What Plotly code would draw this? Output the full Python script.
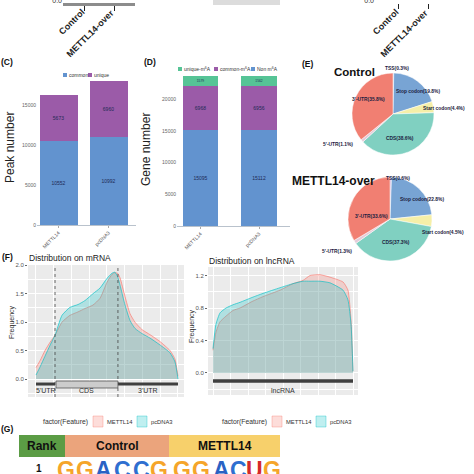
import plotly.graph_objects as go

W = H = 474
def px(x): return x / W
def py(y): return 1 - y / H

FONT = "Liberation Sans, Arial, sans-serif"

# ---------------- data ----------------
top_groups = ["Control", "METTL14-over"]
top_zero = [0, 0]

bar_groups = ["METTL14", "pcDNA3"]
peak_common = [10552, 10992]
peak_unique = [5673, 6960]
peak_ticks = [0, 5000, 10000, 15000]

gene_non = [15095, 15112]
gene_common = [6968, 6956]
gene_unique = [1579, 1562]
gene_ticks = [0, 5000, 10000, 15000, 20000]

pie_labels = ["TSS", "Stop codon", "Start codon", "CDS", "5'-UTR", "3'-UTR"]
pie_control = [0.3, 19.8, 4.4, 38.6, 1.1, 35.8]
pie_over = [0.6, 22.8, 4.5, 37.3, 1.3, 33.6]

mrna_pos = [0, 0.03, 0.063, 0.1, 0.134, 0.183, 0.239, 0.296, 0.345, 0.401, 0.451,
            0.5, 0.535, 0.555, 0.575, 0.592, 0.627, 0.662, 0.697, 0.746, 0.803,
            0.873, 0.944, 0.979, 1.0]
mrna_pcdna3 = [0.07, 0.22, 0.4, 0.6, 0.77, 1.12, 1.26, 1.31, 1.38, 1.5, 1.6,
               1.77, 1.86, 1.88, 1.80, 1.65, 1.3, 1.03, 0.89, 0.8, 0.72,
               0.6, 0.46, 0.3, 0.0]
mrna_mettl14 = [0.2, 0.33, 0.5, 0.65, 0.77, 1.0, 1.12, 1.18, 1.24, 1.3, 1.42,
                1.7, 1.84, 1.87, 1.86, 1.78, 1.45, 1.15, 1.0, 0.87, 0.78,
                0.66, 0.5, 0.35, 0.05]

lnc_pos = [0, 0.021, 0.05, 0.093, 0.143, 0.193, 0.279, 0.357, 0.479, 0.571,
           0.643, 0.693, 0.764, 0.836, 0.929, 0.964, 0.986, 1.0]
lnc_pcdna3 = [0.3, 0.6, 0.74, 0.8, 0.84, 0.87, 0.93, 0.98, 1.05, 1.1,
              1.13, 1.13, 1.13, 1.11, 1.02, 0.9, 0.6, 0.02]
lnc_mettl14 = [0.28, 0.5, 0.63, 0.7, 0.77, 0.8, 0.88, 0.94, 1.02, 1.1,
               1.14, 1.2, 1.21, 1.18, 1.12, 1.02, 0.65, 0.02]

mrna_regions = ["5'UTR", "CDS", "3'UTR"]
mrna_bounds = [0.0, 0.134, 0.577, 1.0]

motif_control = ["G", "G", "A", "C", "C", "G"]
motif_mettl14 = ["G", "G", "A", "C", "U", "G"]
motif_ranks = ["1"]

# ---------------- styles ----------------
BLUE = "#6293cf"; PURPLE = "#9b5ba8"; GREEN = "#56c496"
PIE_COLORS = ["#c9a3d3", "#78a4d4", "#f5efa8", "#80d0c1", "#e3cbd8", "#f17f72"]
PINK = "248,118,109"; TEAL = "0,191,196"
BASE_COL = {"A": "#2a62c4", "C": "#2f6fd0", "G": "#f5a52a", "U": "#d42a2a"}

fig = go.Figure()

# top (cropped) panels
for xa, ya in (("x", "y"), ("x2", "y2")):
    fig.add_trace(go.Scatter(x=top_groups, y=top_zero, mode="markers",
                             marker=dict(opacity=0), xaxis=xa, yaxis=ya,
                             hoverinfo="skip"))

lab = dict(size=5, color="#1e2a55", family=FONT)
# panel C
for vals, col in ((peak_common, BLUE), (peak_unique, PURPLE)):
    fig.add_trace(go.Bar(x=bar_groups, y=vals, marker=dict(color=col, line=dict(width=0)),
                         width=0.76, text=[str(v) for v in vals], textposition="inside",
                         insidetextanchor="middle", textangle=0, textfont=lab,
                         xaxis="x3", yaxis="y3", hoverinfo="skip"))
# panel D
for vals, col in ((gene_non, BLUE), (gene_common, PURPLE), (gene_unique, GREEN)):
    fig.add_trace(go.Bar(x=bar_groups, y=vals, marker=dict(color=col, line=dict(width=0)),
                         width=0.6, text=[str(v) for v in vals], textposition="inside",
                         insidetextanchor="middle", textangle=0, textfont=lab,
                         xaxis="x4", yaxis="y4", hoverinfo="skip"))

# panel E pies
for vals, dx, dy in ((pie_control, (352, 434), (155, 73)), (pie_over, (348, 432), (261, 177))):
    fig.add_trace(go.Pie(values=vals, labels=pie_labels, sort=False, direction="clockwise",
                         rotation=0, textinfo="none", hoverinfo="skip",
                         marker=dict(colors=PIE_COLORS, line=dict(color="white", width=0.5)),
                         domain=dict(x=[px(dx[0]), px(dx[1])], y=[py(dy[0]), py(dy[1])])))

# panel F density curves
for pos, m, p, xa, ya in ((mrna_pos, mrna_mettl14, mrna_pcdna3, "x5", "y5"),
                          (lnc_pos, lnc_mettl14, lnc_pcdna3, "x6", "y6")):
    fig.add_trace(go.Scatter(x=pos, y=m, mode="lines", fill="tozeroy",
                             fillcolor=f"rgba({PINK},0.25)",
                             line=dict(color=f"rgba({PINK},0.8)", width=0.8, shape="spline", smoothing=0.5),
                             xaxis=xa, yaxis=ya, hoverinfo="skip"))
    fig.add_trace(go.Scatter(x=pos, y=p, mode="lines", fill="tozeroy",
                             fillcolor=f"rgba({TEAL},0.25)",
                             line=dict(color=f"rgba({TEAL},0.8)", width=0.8, shape="spline", smoothing=0.5),
                             xaxis=xa, yaxis=ya, hoverinfo="skip"))

# ---------------- annotations & shapes ----------------
anns = []
shapes = []

def T(text, x, y, size, color="#222", bold=False, xanchor="center", yanchor="middle", angle=0, xref="paper", yref="paper"):
    anns.append(dict(text=text, x=px(x) if xref == "paper" else x, y=py(y) if yref == "paper" else y,
                     xref=xref, yref=yref, showarrow=False,
                     xanchor=xanchor, yanchor=yanchor, textangle=angle, borderpad=0,
                     font=dict(size=size, color=color, family=FONT,
                               weight="bold" if bold else "normal")))

def R(x0, y0, x1, y1, fill, line=None, lw=0):
    shapes.append(dict(type="rect", xref="paper", yref="paper", x0=px(x0), x1=px(x1),
                       y0=py(y1), y1=py(y0), fillcolor=fill,
                       line=dict(width=lw, color=line or fill), layer="above"))

# cropped gel image strip at top
R(213, 0, 280, 5, "#dcdcdc")

# top cropped axis labels (rotated)
for ticks_px in ((84, 114), (398, 428)):
    for g, tx in zip(top_groups, ticks_px):
        T(g, tx + 4, 6, 9, "#222", bold=True, xanchor="right", yanchor="top", angle=-45)

# panel letters
for t, x, y in (("(C)", 7, 62), ("(D)", 150, 62), ("(E)", 308, 64), ("(F)", 8, 257), ("(G)", 7, 429)):
    T(t, x, y, 8.5, "#111", bold=True)

# C legend
R(63, 73, 67, 77, BLUE); T("common", 68, 75, 5, "#333", xanchor="left")
R(88, 73, 92, 77, PURPLE); T("unique", 93, 75, 5, "#333", xanchor="left")
T("Peak number", 10, 148, 12, "#222", angle=-90)
# D legend
R(178, 67, 182, 71, GREEN); T("unique-m<sup>6</sup>A", 183, 69, 5, "#333", xanchor="left")
R(214, 67, 218, 71, PURPLE); T("common-m<sup>6</sup>A", 219, 69, 5, "#333", xanchor="left")
R(251, 67, 255, 71, BLUE); T("Non m<sup>6</sup>A", 256, 69, 5, "#333", xanchor="left")
T("Gene number", 146, 150, 12, "#222", angle=-90)

# E titles and labels
T("Control", 354, 72, 11.5, "#111", bold=True)
T("METTL14-over", 333, 181, 12, "#111", bold=True)
pos_ctrl = [(397, 68), (418, 92), (444, 109), (400, 138), (338, 145), (368, 100)]
pos_over = [(398, 178), (422, 200), (443, 232), (396, 243), (337, 252), (371, 216)]
for vals, poss in ((pie_control, pos_ctrl), (pie_over, pos_over)):
    for lbl, v, (x, y) in zip(pie_labels, vals, poss):
        T(f"{lbl}({v}%)", x, y, 4.9, "#1a2040", bold=True)

# F titles
T("Distribution on mRNA", 28, 258, 8.5, "#222", xanchor="left")
T("Distribution on lncRNA", 208, 261, 8.5, "#222", xanchor="left")
T("Frequency", 12, 322, 7, "#333", angle=-90)
T("Frequency", 192, 326, 7, "#333", angle=-90)

# panel backgrounds (ggplot grey)
for a in ("5", "6"):
    shapes.append(dict(type="rect", xref=f"x{a} domain", yref=f"y{a} domain", x0=0, x1=1, y0=0, y1=1,
                       fillcolor="#ebebeb", line=dict(width=0), layer="below"))

# mRNA gene model
b = mrna_bounds
for xv in (b[1], b[2]):
    shapes.append(dict(type="line", xref="x5", yref="y5 domain", x0=xv, x1=xv, y0=0, y1=1,
                       line=dict(color="#444", width=0.8, dash="dot"), layer="above"))
shapes.append(dict(type="line", xref="x5", yref="y5", x0=b[0], x1=b[1], y0=-0.088, y1=-0.088,
                   line=dict(color="#3f3f3f", width=3), layer="above"))
shapes.append(dict(type="line", xref="x5", yref="y5", x0=b[2], x1=b[3], y0=-0.088, y1=-0.088,
                   line=dict(color="#3f3f3f", width=3), layer="above"))
shapes.append(dict(type="rect", xref="x5", yref="y5", x0=b[1] + 0.007, x1=b[2], y0=-0.158, y1=-0.035,
                   fillcolor="#cccccc", line=dict(color="#555", width=0.8), layer="above"))
for name, x0, x1 in zip(mrna_regions, b[:-1], b[1:]):
    T(name, (x0 + x1) / 2, -0.21, 7, "#333", xref="x5", yref="y5")
# lncRNA gene model
shapes.append(dict(type="line", xref="x6", yref="y6", x0=0, x1=1, y0=-0.098, y1=-0.098,
                   line=dict(color="#3f3f3f", width=3.5), layer="above"))
T("lncRNA", 0.5, -0.21, 7, "#333", xref="x6", yref="y6")

# F legends
for x0 in (42, 221):
    T("factor(Feature)", x0, 422, 6.8, "#333", xanchor="left")
    R(x0 + 51, 416, x0 + 61, 427, f"rgba({PINK},0.25)", f"rgba({PINK},0.6)", 0.6)
    T("METTL14", x0 + 64, 422, 5.8, "#333", xanchor="left")
    R(x0 + 95, 416, x0 + 105, 427, f"rgba({TEAL},0.25)", f"rgba({TEAL},0.6)", 0.6)
    T("pcDNA3", x0 + 108, 422, 5.8, "#333", xanchor="left")

# G header
R(19, 435, 65, 457, "#5b9c45")
R(65, 435, 169, 457, "#eba47c")
R(169, 435, 280, 457, "#f7d06b")
T("Rank", 42, 446, 12, "#111", bold=True)
T("Control", 117, 446, 12, "#111", bold=True)
T("METTL14", 225, 446, 12, "#111", bold=True)
T(motif_ranks[0], 39, 468, 10, "#111", bold=True)
for letters, xs in ((motif_control, [66, 85, 103, 122, 141, 159]),
                    (motif_mettl14, [182, 201, 221, 238, 254, 272])):
    for L, x in zip(letters, xs):
        T(L, x, 456, 23, BASE_COL[L], bold=True, yanchor="top")

# ---------------- layout ----------------
def topx(dom, rng, line):
    return dict(domain=[px(dom[0]), px(dom[1])], type="category", range=rng,
                showticklabels=False,
                ticks="outside", ticklen=5, tickcolor="#222", tickwidth=1.2,
                showline=line, linecolor="#8c8c8c", linewidth=3,
                showgrid=False, zeroline=False)

def topy():
    return dict(domain=[1 - 3 / 474, 1], range=[-2, 1], tickvals=[0], ticktext=["0.0"],
                tickfont=dict(size=7, color="#333"), showgrid=False, zeroline=False,
                showline=False, ticks="", ticklabeloverflow="allow")

def barx(dom, rng):
    return dict(domain=[px(dom[0]), px(dom[1])], type="category", range=rng, tickangle=-45,
                tickfont=dict(size=5, color="#555"), ticks="outside", ticklen=2,
                tickcolor="#aaa", showline=True, linecolor="#b9c2cc", linewidth=1,
                showgrid=False, zeroline=False)

def bary(dom, rng, tv):
    return dict(domain=[py(dom[0]), py(dom[1])], range=rng, tickvals=tv,
                ticktext=[str(v) for v in tv],
                tickfont=dict(size=5, color="#666"), ticks="", showgrid=False,
                zeroline=False, showline=False)

def fx(dom, rng):
    return dict(domain=[px(dom[0]), px(dom[1])], range=rng, tickmode="linear", tick0=0, dtick=0.25,
                showticklabels=False, ticks="", showgrid=True, gridcolor="white", gridwidth=0.9,
                minor=dict(tick0=0, dtick=0.125, showgrid=True, gridcolor="white", gridwidth=0.4),
                zeroline=False, showline=False)

def fy(dom, rng, dt):
    return dict(domain=[py(dom[0]), py(dom[1])], range=rng, tickmode="linear", tick0=0, dtick=dt,
                tickformat=".1f", tickfont=dict(size=6, color="#555"), ticks="outside", ticklen=2,
                tickcolor="#666", showgrid=True, gridcolor="white", gridwidth=0.9,
                minor=dict(tick0=0, dtick=dt / 2, showgrid=True, gridcolor="white", gridwidth=0.4),
                zeroline=False, showline=False)

fig.update_layout(
    template="none",
    width=W, height=H, autosize=False, margin=dict(l=0, r=0, t=0, b=0),
    paper_bgcolor="white", plot_bgcolor="rgba(0,0,0,0)",
    barmode="stack", showlegend=False, font=dict(family=FONT),
    xaxis=dict(**topx((63, 135), [-0.7, 1.7], True), anchor="y"),
    yaxis=dict(**topy(), anchor="x"),
    xaxis2=dict(**topx((375, 454), [-0.767, 1.867], False), anchor="y2"),
    yaxis2=dict(**topy(), anchor="x2"),
    xaxis3=dict(**barx((37, 136), [-0.43, 1.55]), anchor="y3"),
    yaxis3=dict(**bary((225, 80), [0, 18125], peak_ticks), anchor="x3"),
    xaxis4=dict(**barx((177, 290), [-0.402, 1.53]), anchor="y4"),
    yaxis4=dict(**bary((226, 72), [0, 24290], gene_ticks), anchor="x4"),
    xaxis5=dict(**fx((28, 184), [-0.0563, 1.0423]), anchor="y5"),
    yaxis5=dict(**fy((397, 265), [-0.316, 2.005], 0.5), anchor="x5"),
    xaxis6=dict(**fx((208, 358), [-0.0357, 1.0357]), anchor="y6"),
    yaxis6=dict(**fy((395, 267), [-0.271, 1.305], 0.4), anchor="x6"),
    annotations=anns, shapes=shapes,
)

fig.write_html("out.html", config={"displayModeBar": False},
               post_script="document.body.style.margin='0';document.body.style.padding='0';")
